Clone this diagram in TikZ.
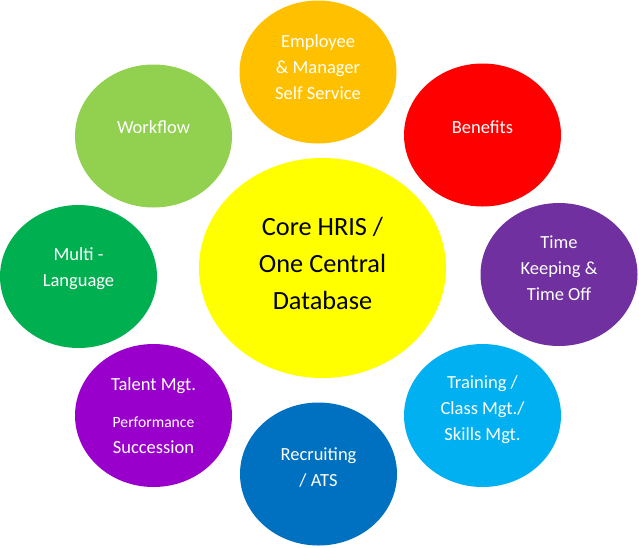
\documentclass[tikz,border=0pt]{standalone}
\usepackage{fontspec}
\setmainfont{Carlito}
\usetikzlibrary{shapes.geometric}
\definecolor{cyel}{HTML}{FFFF00}
\definecolor{corg}{HTML}{FFC000}
\definecolor{cred}{HTML}{FF0000}
\definecolor{cpur}{HTML}{7030A0}
\definecolor{ccya}{HTML}{00B0F0}
\definecolor{cblu}{HTML}{0070C0}
\definecolor{cvio}{HTML}{9900CC}
\definecolor{cgrn}{HTML}{00B050}
\definecolor{clgr}{HTML}{92D050}
\tikzset{
  bubble/.style={ellipse, draw=none, inner sep=0pt, minimum width=157pt, minimum height=143pt},
  lbl/.style={align=center, text=white, inner sep=0pt, font=\fontsize{18.5}{26}\selectfont},
}
\begin{document}
\begin{tikzpicture}[x=1pt,y=-1pt]
\useasboundingbox (0,0) rectangle (639,547);
% center
\node[ellipse, fill=cyel, inner sep=0pt, minimum width=247pt, minimum height=220pt] (core) at (322.5,268) {};
\node[align=center, inner sep=0pt, font=\fontsize{26.3}{37}\selectfont] (coret) at (322.5,263) {Core HRIS /\\One Central\\Database};
% outer
\node[bubble, fill=corg] (ess) at (318,72) {};
\node[lbl] (esst) at (318,67) {Employee\\\& Manager\\Self Service};
\node[bubble, fill=cred] (ben) at (482.5,135) {};
\node[lbl] (bent) at (482.5,127) {Benefits};
\node[bubble, fill=cpur] (time) at (559,274.5) {};
\node[lbl] (timet) at (559,268) {Time\\Keeping \&\\Time Off};
\node[bubble, fill=ccya] (trn) at (482.5,415.5) {};
\node[lbl] (trnt) at (482.5,410) {Training /\\Class Mgt./\\Skills Mgt.};
\node[bubble, fill=cblu] (rec) at (318.5,474) {};
\node[lbl] (rect) at (318.5,467) {Recruiting\\/ ATS};
\node[bubble, fill=cvio] (tal) at (153.5,415.5) {};
\node[lbl] (talt) at (153.5,416) {Talent Mgt.\\[11pt]{\fontsize{15.6}{26}\selectfont Performance}\\Succession};
\node[bubble, fill=cgrn] (mul) at (78.5,276.5) {};
\node[lbl] (mult) at (78.5,268.5) {Multi -\\Language};
\node[bubble, fill=clgr] (wf) at (153.5,136) {};
\node[lbl] (wft) at (153.5,127) {Workflow};
\end{tikzpicture}
\end{document}
